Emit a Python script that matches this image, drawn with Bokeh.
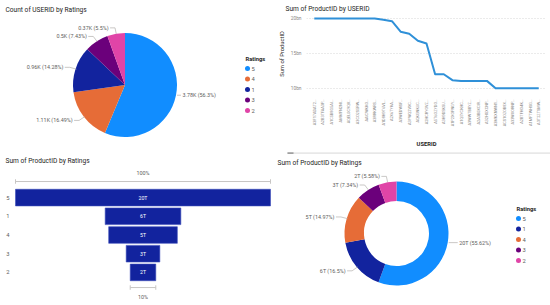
import math
from bokeh.plotting import figure
from bokeh.models import ColumnDataSource, Range1d, FactorRange, Label, FixedTicker
from bokeh.layouts import column, row
from bokeh.transform import dodge
from bokeh.core.properties import value
from bokeh.embed import file_html
from bokeh.resources import INLINE

# ---------------- data ----------------
pie_ratings = ["5", "4", "1", "3", "2"]
pie_counts = [3780, 1107, 959, 499, 369]
pie_colors = ["#118DFF", "#E66C37", "#12239E", "#6B007B", "#E044A7"]

line_users = ["A3F17ADAT2…", "A2B3TFAA3P…", "A1C5B8G5AI…", "AMMFN2NI…", "AQEL0C9QV…",
              "A3CO2S5RW…", "AAICWKKO…", "A3RRKWRS…", "A1D8H9T6VL…", "A2X6TYKA…",
              "A3WEDWSF…", "A3YWQ2VXC…", "AQKGNKUC…", "A2HCRYOVZ…", "A5T6OZYDO…",
              "A3H9DSKSU…", "A1P2XOPNGY…", "A1Q5YCKHC…", "A3WWTBBYZ…", "A2A3B0XCIR…",
              "A32HGXCNP…", "A3MKXNWN1…", "ACS1OZOB8X…", "A33WXORNP…", "A2BTFHO4K…",
              "A1MFTWHSG…", "A3T2ZTSMW…"]
line_sum_bn = [20.0, 20.0, 20.0, 20.0, 20.0, 20.0, 20.0, 20.0, 19.8, 19.6, 18.1, 17.8, 16.8, 16.4,
               12.0, 12.0, 11.15, 11.05, 11.05, 11.05, 11.05, 10.0, 10.0, 10.0, 10.0, 10.0, 10.0]
line_ticks = [10, 15, 20]

sum_ratings = ["5", "1", "4", "3", "2"]
product_sum_T = [20.022, 5.940, 5.389, 2.641, 2.008]
sum_colors = ["#118DFF", "#12239E", "#E66C37", "#6B007B", "#E044A7"]

# ---------------- style ----------------
FONT = "Roboto"
TITLE_C = "#252423"
LABEL_C = "#605E5C"
LEADER_C = "#B3B0AD"
TITLE_SIZE = "6.6px"
DLABEL_SIZE = "5.4px"


def base_fig(w, h, **kw):
    p = figure(width=w, height=h, output_backend="svg", toolbar_location=None, **kw)
    p.outline_line_color = None
    p.background_fill_color = "white"
    p.border_fill_color = "white"
    p.frame_align = False
    return p


def pixel_fig(w, h):
    p = base_fig(w, h, x_range=Range1d(0, w), y_range=Range1d(0, h),
                 x_axis_location=None, y_axis_location=None, min_border=0)
    p.grid.visible = False
    return p


def style_title(p, text, offset, standoff):
    p.title.text = text
    p.title.align = "left"
    p.title.offset = offset
    p.title.standoff = standoff
    p.title.text_font = FONT
    p.title.text_font_size = TITLE_SIZE
    p.title.text_font_style = "normal"
    p.title.text_color = TITLE_C


def bare_axis(ax):
    ax.axis_line_color = None
    ax.major_tick_line_color = None
    ax.minor_tick_line_color = None
    ax.major_tick_out = 0
    ax.major_tick_in = 0
    ax.minor_tick_out = 0
    ax.minor_tick_in = 0


def add_title(p, x, y, text):
    p.add_layout(Label(x=x, y=y, text=text, text_font=FONT, text_font_size=TITLE_SIZE,
                       text_color=TITLE_C, text_baseline="middle", text_align="left"))


def slice_angles(vals):
    total = float(sum(vals))
    starts, ends, mids, fracs, cum = [], [], [], [], 0.0
    for v in vals:
        f0 = cum / total
        cum += v
        f1 = cum / total
        starts.append(math.pi / 2 - 2 * math.pi * f0)
        ends.append(math.pi / 2 - 2 * math.pi * f1)
        mids.append(math.pi * (f0 + f1))
        fracs.append(v / total)
    return starts, ends, mids, fracs


def pct_text(frac):
    s = f"{frac * 100:.2f}".rstrip("0").rstrip(".")
    return s + "%"


def add_callouts(p, cx, cy, r, mids, labels, h_right, e_left=6, h_left=5):
    xs, ys = [], []
    L = dict(x=[], y=[], t=[])
    R = dict(x=[], y=[], t=[])
    for th, lab in zip(mids, labels):
        dx, dy = math.sin(th), math.cos(th)
        x0, y0 = cx + r * dx, cy + r * dy
        if dx >= 0:
            x2 = x0 + h_right
            xs.append([x0 + 1, x2]); ys.append([y0, y0])
            R["x"].append(x2 + 1.5); R["y"].append(y0); R["t"].append(lab)
        else:
            x1, y1 = cx + (r + e_left) * dx, cy + (r + e_left) * dy
            x2 = x1 - h_left
            xs.append([x0 - 1 * dx, x1, x2]); ys.append([y0, y1, y1])
            L["x"].append(x2 - 1.5); L["y"].append(y1); L["t"].append(lab)
    p.multi_line(xs=xs, ys=ys, line_color=LEADER_C, line_width=0.7)
    for d, al in ((L, "right"), (R, "left")):
        p.text(x=d["x"], y=d["y"], text=d["t"], text_align=al, text_baseline="middle",
               text_font=value(FONT), text_font_size=value(DLABEL_SIZE), text_color=LABEL_C)


def add_legend(p, x, y_top, names, colors):
    p.text(x=[x - 2], y=[y_top], text=["Ratings"], text_align="left", text_baseline="middle",
           text_font=value(FONT), text_font_size=value("5.8px"), text_font_style="bold",
           text_color=TITLE_C)
    ys = [y_top - 10 - 10.5 * i for i in range(len(names))]
    p.scatter(x=[x] * len(names), y=ys, size=5, marker="circle", fill_color=colors, line_color=None)
    p.text(x=[x + 4] * len(names), y=ys, text=names, text_align="left", text_baseline="middle",
           text_font=value(FONT), text_font_size=value("5.8px"), text_color=LABEL_C)


# ---------------- panel 1: pie ----------------
W1, H1 = 275, 150
p1 = pixel_fig(W1, H1)
add_title(p1, 5, H1 - 9, "Count of USERID by Ratings")
cx1, cy1, r1 = 124.5, H1 - 84.5, 52
s1, e1, m1, f1 = slice_angles(pie_counts)
p1.wedge(x=cx1, y=cy1, radius=r1, start_angle=s1, end_angle=e1, direction="clock",
         fill_color=pie_colors, line_color=None)
pie_labels = [f"{c / 1000:.2f}".rstrip("0").rstrip(".") + f"K ({pct_text(fr)})"
              for c, fr in zip(pie_counts, f1)]
add_callouts(p1, cx1, cy1, r1, m1, pie_labels, h_right=5)
add_legend(p1, 247, H1 - 58, pie_ratings, pie_colors)

# ---------------- panel 2: line ----------------
W2, H2 = 275, 150
FL, FR, FT, FB = 24, 4, 13, 96
y0, y1 = 9.1, 20.7
p2 = base_fig(W2, H2,
              x_range=FactorRange(factors=line_users, range_padding=0.4, range_padding_units="absolute"),
              y_range=Range1d(y0, y1),
              min_border_left=FL, min_border_right=FR, min_border_top=FT, min_border_bottom=H2 - FB)
style_title(p2, "Sum of ProductID by USERID", -(FL - 3), 2)
p2.line(x=line_users, y=line_sum_bn, line_color="#2F90D8", line_width=2, line_join="round")
yax = p2.yaxis[0]
bare_axis(yax)
yax.ticker = FixedTicker(ticks=line_ticks)
yax.major_label_overrides = {t: f"{t}bn" for t in line_ticks}
yax.major_label_text_font = FONT
yax.major_label_text_font_size = "4.8px"
yax.major_label_text_color = "#8A8886"
yax.major_label_standoff = 5
yax.axis_label = "Sum of ProductID"
yax.axis_label_text_font = FONT
yax.axis_label_text_font_size = "5.8px"
yax.axis_label_text_font_style = "normal"
yax.axis_label_text_color = TITLE_C
yax.axis_label_standoff = 3
xax = p2.xaxis[0]
bare_axis(xax)
xax.major_label_orientation = math.pi / 2
xax.major_label_text_font = FONT
xax.major_label_text_font_size = "3.9px"
xax.major_label_text_color = "#8A8886"
xax.major_label_standoff = 5
xax.axis_label = "USERID"
xax.axis_label_text_font = FONT
xax.axis_label_text_font_size = "5.8px"
xax.axis_label_text_font_style = "bold"
xax.axis_label_text_color = TITLE_C
xax.axis_label_standoff = 12
p2.xgrid.visible = False
p2.ygrid.grid_line_color = "#D6D6D6"
p2.ygrid.grid_line_dash = "1 2"

# ---------------- panel 3: funnel ----------------
W3, H3 = 275, 155
FL3, FT3 = 12, 14
rpad3 = 1.27  # absolute padding on each side of the factor range
vmax = max(product_sum_T)
x_lo, x_hi = -0.5118 * vmax, 0.5196 * vmax
p3 = base_fig(W3, H3,
              y_range=FactorRange(factors=sum_ratings[::-1], range_padding=rpad3, range_padding_units="absolute"),
              x_range=Range1d(x_lo, x_hi), x_axis_location=None,
              min_border_left=FL3, min_border_right=0, min_border_top=FT3, min_border_bottom=0)
style_title(p3, "Sum of ProductID by Ratings", -(FL3 - 5), 0)
p3.grid.visible = False
yax3 = p3.yaxis[0]
bare_axis(yax3)
yax3.major_label_standoff = 3
yax3.major_label_text_font = FONT
yax3.major_label_text_font_size = "5.8px"
yax3.major_label_text_color = LABEL_C
src3 = ColumnDataSource(dict(rating=sum_ratings,
                             left=[-v / 2 for v in product_sum_T],
                             right=[v / 2 for v in product_sum_T],
                             lab=[f"{v:.0f}T" for v in product_sum_T]))
p3.hbar(y="rating", left="left", right="right", height=0.89, source=src3,
        fill_color="#12239E", line_color="#3D4DBA", line_width=0.6)
p3.text(x=0, y="rating", text="lab", source=src3, text_align="center", text_baseline="middle",
        text_font=value(FONT), text_font_size=value("5.2px"), text_color="white")
for idx, off, loff in ((0, 0.86, 1.29), (len(sum_ratings) - 1, -0.81, -1.34)):
    v = product_sum_T[idx]
    bs = ColumnDataSource(dict(cat=[sum_ratings[idx]], x0=[-v / 2], x1=[v / 2],
                               lab=[f"{v / product_sum_T[0] * 100:.0f}%"]))
    p3.segment(x0="x0", x1="x1", y0=dodge("cat", off, range=p3.y_range),
               y1=dodge("cat", off, range=p3.y_range), source=bs, line_color="#C8C6C4", line_width=1)
    for xc in ("x0", "x1"):
        p3.segment(x0=xc, x1=xc, y0=dodge("cat", off - 0.12, range=p3.y_range),
                   y1=dodge("cat", off + 0.12, range=p3.y_range), source=bs,
                   line_color="#C8C6C4", line_width=1)
    p3.text(x=0, y=dodge("cat", loff, range=p3.y_range), text="lab", source=bs,
            text_align="center", text_baseline="middle", text_font=value(FONT),
            text_font_size=value("5.4px"), text_color=LABEL_C)

# ---------------- panel 4: donut ----------------
W4, H4 = 275, 155
p4 = pixel_fig(W4, H4)
# horizontal scrollbar of the line visual sits just above this panel
p4.quad(left=[12], right=[W4], bottom=[H4 - 3.6], top=[H4 - 1.8], fill_color="#E8E8E8", line_color=None)
p4.quad(left=[12], right=[18], bottom=[H4 - 3.6], top=[H4 - 1.8], fill_color="#A0A0A0", line_color=None)
add_title(p4, 2, H4 - 12, "Sum of ProductID by Ratings")
cx4, cy4, ro4, ri4 = 121, H4 - 83, 52, 32.5
s4, e4, m4, f4 = slice_angles(product_sum_T)
p4.annular_wedge(x=cx4, y=cy4, inner_radius=ri4, outer_radius=ro4, start_angle=s4, end_angle=e4,
                 direction="clock", fill_color=sum_colors, line_color=None)
donut_labels = [f"{v:.0f}T ({pct_text(fr)})" for v, fr in zip(product_sum_T, f4)]
add_callouts(p4, cx4, cy4, ro4, m4, donut_labels, h_right=10)
add_legend(p4, 243, H4 - 58, sum_ratings, sum_colors)

layout = column(row(p1, p2), row(p3, p4))
open("out.html", "w").write(file_html(layout, INLINE, "Ratings dashboard"))
